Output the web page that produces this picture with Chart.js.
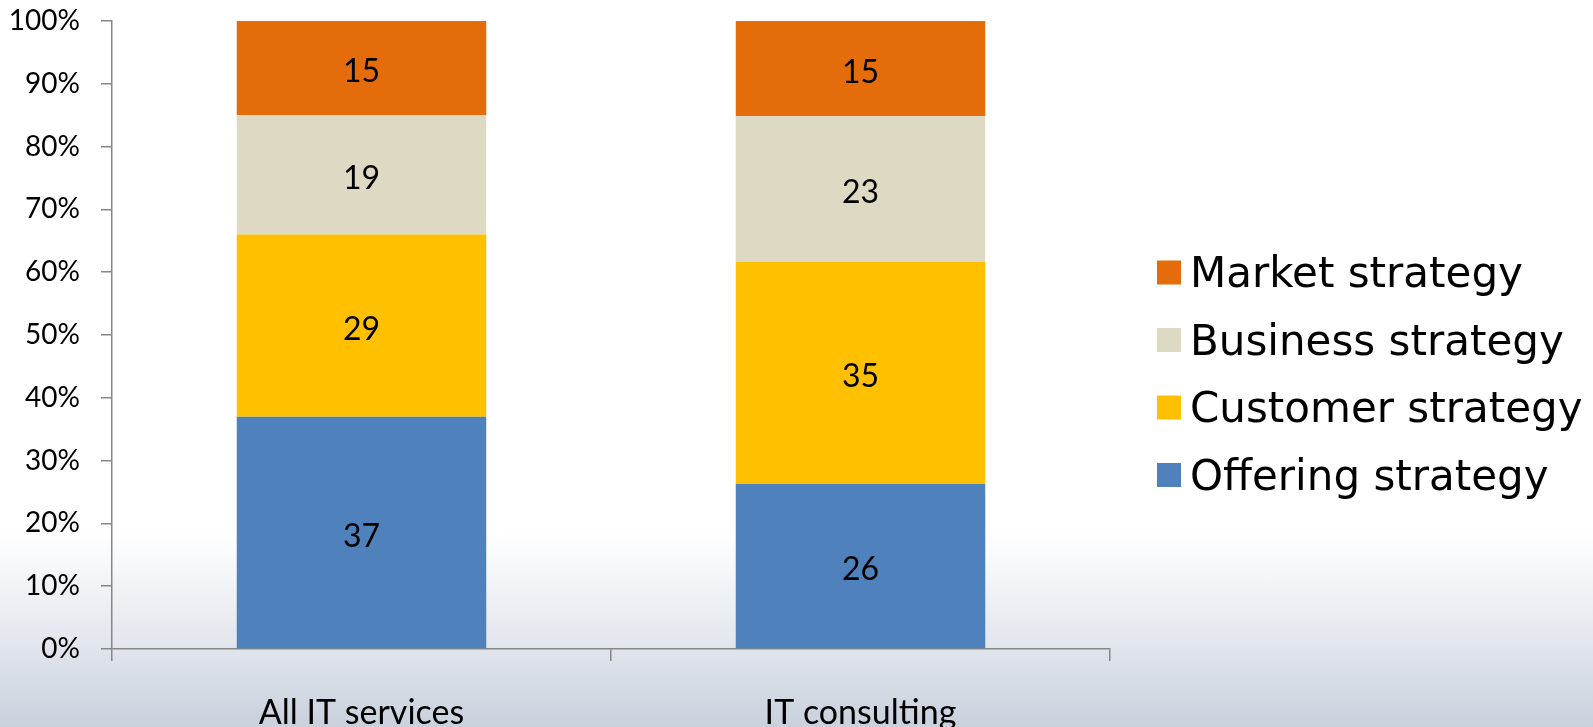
<!DOCTYPE html>
<html>
<head>
<meta charset="utf-8">
<title>Strategy focus</title>
<script src="https://cdn.jsdelivr.net/npm/chart.js@4/dist/chart.umd.min.js"></script>
<style>
  html, body { margin: 0; padding: 0; }
  body {
    width: 1593px; height: 727px; overflow: hidden;
    background: linear-gradient(to bottom, #ffffff 0%, #ffffff 73%, #f4f6f8 79%, #e3e7ee 88%, #c9d1dd 100%);
  }
  #chart { display: block; }
</style>
</head>
<body>
<canvas id="chart" width="1593" height="727"></canvas>
<script>
/* ---- data ---- */
const categories  = ['All IT services', 'IT consulting'];
const seriesNames = ['Offering strategy', 'Customer strategy', 'Business strategy', 'Market strategy'];
const offering    = [37, 26];
const customer    = [29, 35];
const business    = [19, 23];
const market      = [15, 15];
const yTicks      = [0, 10, 20, 30, 40, 50, 60, 70, 80, 90, 100];

const seriesValues = [offering, customer, business, market];
const seriesColors = ['#4f81bd', '#ffc000', '#ddd9c3', '#e46c0a'];

const AXIS = '#868686';
const BODY_FONT = 'Lato, Calibri, sans-serif';
const LEGEND_FONT = '"DejaVu Sans", Verdana, sans-serif';

// each column is shown as share of its own total (100% stacked)
const totals = categories.map((_, c) => seriesValues.reduce((s, arr) => s + arr[c], 0));

const datasets = seriesNames.map((name, i) => ({
  label: name,
  data: seriesValues[i].map((v, c) => v / totals[c] * 100),
  raw: seriesValues[i],
  backgroundColor: seriesColors[i],
  borderWidth: 0,
  barPercentage: 0.5,
  categoryPercentage: 1,
}));

/* ---- segment value labels ---- */
const valueLabels = {
  id: 'valueLabels',
  afterDatasetsDraw(chart) {
    const ctx = chart.ctx;
    ctx.save();
    ctx.fillStyle = '#000';
    ctx.font = '32px ' + BODY_FONT;
    ctx.textAlign = 'center';
    ctx.textBaseline = 'middle';
    chart.data.datasets.forEach((ds, i) => {
      chart.getDatasetMeta(i).data.forEach((bar, c) => {
        const { x, y, base } = bar.getProps(['x', 'y', 'base'], true);
        ctx.fillText(String(ds.raw[c]), x, (y + base) / 2 + 4);
      });
    });
    ctx.restore();
  }
};

/* ---- legend on the right, top series first ---- */
const sideLegend = {
  id: 'sideLegend',
  afterDraw(chart) {
    const ctx = chart.ctx;
    const boxX = 1157, box = 24, textX = 1190, firstY = 272.5, gap = 67.5;
    ctx.save();
    ctx.font = '42px ' + LEGEND_FONT;
    ctx.textBaseline = 'middle';
    ctx.textAlign = 'left';
    const items = chart.data.datasets.slice().reverse();
    items.forEach((ds, k) => {
      const cy = firstY + k * gap;
      ctx.fillStyle = ds.backgroundColor;
      ctx.fillRect(boxX, cy - box / 2, box, box);
      ctx.fillStyle = '#000';
      ctx.fillText(ds.label, textX, cy + 4);
    });
    ctx.restore();
  }
};

new Chart(document.getElementById('chart'), {
  type: 'bar',
  data: { labels: categories, datasets },
  options: {
    responsive: false,
    animation: false,
    layout: { padding: { left: 0, top: 0, right: 483, bottom: 0 } },
    plugins: {
      legend: { display: false },
      tooltip: { enabled: false },
    },
    scales: {
      x: {
        stacked: true,
        grid: { offset: true, drawOnChartArea: false, drawTicks: true, tickLength: 12, color: AXIS, lineWidth: 1.5 },
        border: { display: true, color: AXIS, width: 1.5 },
        ticks: { color: '#000', padding: 32, font: { family: BODY_FONT, size: 34 } },
        afterFit(s) { s.height = 78; },
      },
      y: {
        stacked: true,
        min: 0,
        max: 100,
        afterBuildTicks(s) { s.ticks = yTicks.map(v => ({ value: v })); },
        grid: { drawOnChartArea: false, drawTicks: true, tickLength: 11, color: AXIS, lineWidth: 1.5 },
        border: { display: true, color: AXIS, width: 1.5 },
        ticks: {
          color: '#000',
          padding: 21,
          font: { family: BODY_FONT, size: 28 },
          callback: v => v + '%',
        },
        afterFit(s) {
          s.width = 112;
          // plot top sits 21px below the canvas edge
          s.paddingTop = 21;
          s.paddingBottom = 0;
        },
      },
    },
  },
  plugins: [valueLabels, sideLegend],
});
</script>
</body>
</html>
